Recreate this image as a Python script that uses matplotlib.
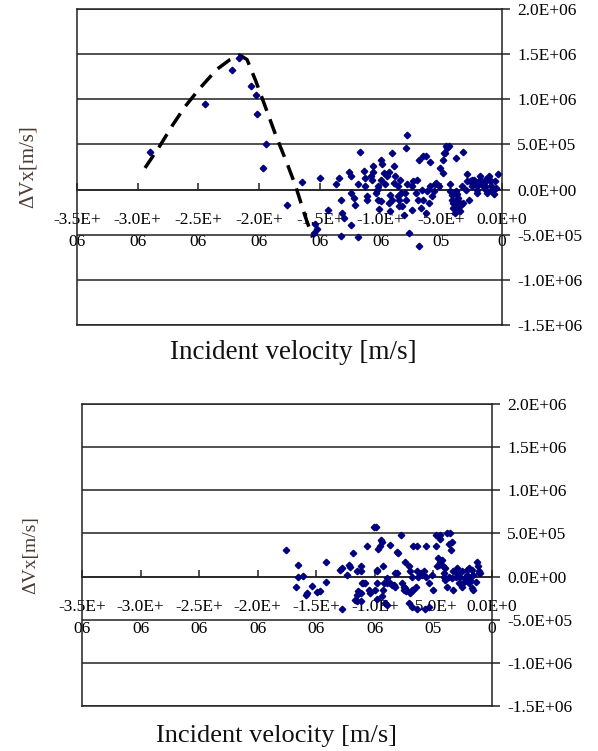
import matplotlib.pyplot as plt
import numpy as np

# incident velocity in 1e6 m/s, delta Vx in 1e5 m/s
top_vx = np.array([
    -2.90, -2.45, -2.22, -2.17, -2.07, -2.03, -2.02, -1.94, -1.97, -1.77, -1.65,
    -1.50, -1.43, -1.54, -1.52, -1.55, -1.37, -1.34, -1.33, -1.32, -1.30, -1.33,
    -1.26, -1.24, -1.24, -1.22, -1.24, -1.19, -1.17, -1.19, -1.21,
    -1.14, -1.13, -1.13, -1.11, -1.11, -1.08, -1.07, -1.06, -1.06, -1.04, -1.03,
    -1.02, -1.02, -1.01, -1.00, -0.99, -1.00, -1.00,
    -0.97, -0.96, -0.95, -0.93, -0.92, -0.91, -0.93, -0.91, -0.89, -0.88, -0.89,
    -0.92, -0.86, -0.86, -0.85, -0.84, -0.85, -0.83, -0.82, -0.81, -0.80, -0.79,
    -0.78, -0.78, -0.79, -0.77, -0.74, -0.74, -0.73, -0.71, -0.70, -0.69, -0.68,
    -0.67, -0.66, -0.65, -0.63, -0.65, -0.63, -0.68,
    -0.62, -0.60, -0.59, -0.59, -0.58, -0.56, -0.55, -0.54, -0.52, -0.51, -0.49,
    -0.49, -0.48, -0.47, -0.46, -0.45, -0.44, -0.43, -0.43, -0.41, -0.41, -0.40,
    -0.40, -0.39, -0.38, -0.38, -0.38, -0.37, -0.38, -0.36, -0.34, -0.33, -0.32,
    -0.32, -0.30, -0.29, -0.29, -0.27, -0.26, -0.25, -0.25, -0.23, -0.22, -0.21,
    -0.21, -0.19, -0.18, -0.16, -0.15, -0.14, -0.13, -0.12, -0.11, -0.10, -0.10,
    -0.09, -0.08, -0.03,
    -0.24, -0.20, -0.17, -0.13, -0.06, -0.05, -0.07, -0.37, -0.36, -0.39, -0.35,
])
top_dvx = np.array([
    4.2, 9.5, 13.2, 14.6, 11.5, 10.5, 8.4, 5.1, 2.4, -1.7, 0.8,
    1.3, -2.3, -3.8, -4.4, -4.8, 0.6, 1.3, -1.1, -2.6, -3.1, -5.1,
    1.9, 1.5, -0.4, -0.9, -3.9, -5.3, 4.2, 0.6, -1.7,
    2.1, 1.3, 0.4, -0.7, -1.1, 1.5, 1.1, 2.6, 2.0, -0.4, 0.0,
    0.4, -1.1, -2.1, 3.3, 2.8, 1.1, -1.3,
    1.8, 0.6, 1.5, 2.0, -0.6, -1.1, -1.5, 4.0, 2.6, 1.5, 0.7,
    -2.4, 0.4, -0.7, -1.8, 1.1, -1.1, -0.4, -1.8, -2.8, -0.4, 4.6,
    6.1, 0.6, -1.1, -4.8, 0.4, -2.3, 0.9, -0.4, 1.1, -1.1, 3.3,
    -2.0, 0.0, 3.7, 3.7, -1.1, -2.6, -6.3,
    -0.2, -1.5, 3.1, 0.4, -0.7, -0.2, 0.6, 0.7, 0.4, 2.4, 1.8,
    3.3, 4.1, 4.0, 4.8, 4.6, 4.8, 0.6, -0.2, -0.6, -1.1, -1.5,
    -2.0, -2.6, -0.2, -1.1, -1.8, -2.2, 3.5, -0.9, -1.7, 0.4, 4.2,
    -1.5, 0.0, 1.7, 0.9, -1.1, 0.9, 1.1, 0.4, 1.1, 0.6, 0.0,
    -0.4, 0.9, 1.5, 0.4, 0.7, 0.4, 0.0, -0.4, 1.5, 1.1, 0.9,
    0.4, -0.2, 1.7,
    0.8, 0.5, 1.0, 1.2, 0.9, 0.2, -0.5, -0.5, -1.3, -1.9, -2.4,
])

# dashed guide curve in the upper chart (1e6 m/s, 1e6 m/s)
curve_vx = [-2.94, -2.82, -2.71, -2.61, -2.49, -2.35, -2.24, -2.16, -2.10,
            -2.03, -1.95, -1.86, -1.77, -1.70, -1.62, -1.56]
curve_dvx = [0.24, 0.48, 0.72, 0.92, 1.12, 1.33, 1.44, 1.49, 1.44,
             1.21, 0.92, 0.59, 0.29, 0.04, -0.30, -0.53]

bot_vx = np.array([
    -1.76, -1.66, -1.66, -1.67, -1.61, -1.58, -1.59, -1.54, -1.49, -1.47, -1.42,
    -1.42, -1.30, -1.28, -1.24, -1.22, -1.21, -1.19, -1.15, -1.12, -1.12, -1.14,
    -1.15, -1.12, -1.11, -1.10, -1.08, -1.07, -1.05, -1.04, -1.00, -1.01, -0.99,
    -0.98, -0.98, -0.98, -0.97, -0.96, -0.95, -0.94, -0.93, -0.93, -0.92, -0.90,
    -0.90, -0.87, -0.87, -0.85, -0.84, -0.83, -0.83, -0.81, -0.81, -0.80, -0.78,
    -0.77, -0.75, -0.75, -0.74, -0.74, -0.73, -0.73, -0.71, -0.70, -0.70, -0.68,
    -0.68, -0.67, -0.67, -0.65, -0.64, -0.64, -0.63, -0.61, -0.60, -0.58, -0.56,
    -0.56, -0.54, -0.51, -0.50, -0.48, -0.48, -0.47, -0.46, -0.45, -0.44, -0.44,
    -0.44, -0.43, -0.42, -0.41, -0.41, -0.40, -0.40, -0.38, -0.38, -0.37, -0.37,
    -0.36, -0.35, -0.34, -0.34, -0.33, -0.33, -0.31, -0.30, -0.30, -0.28, -0.27,
    -0.26, -0.26, -0.24, -0.23, -0.21, -0.21, -0.20, -0.20, -0.19, -0.17, -0.17,
    -0.16, -0.14, -0.13, -0.12, -0.11, -0.11, -0.16, -0.10,
    -1.28, -1.17, -1.15, -1.12, -0.98, -0.94, -0.91, -0.90, -0.71, -0.68, -0.64,
    -0.57, -0.54,
])
bot_dvx = np.array([
    3.1, 1.3, 0.0, -1.2, 0.1, -1.9, -2.1, -1.1, -1.8, -1.7, 1.7,
    -0.6, 0.8, 1.0, 0.2, 1.3, 1.1, 2.7, 0.6, 1.2, 0.6, -1.7,
    -2.1, -1.9, -0.7, -0.8, -0.7, 3.5, -1.5, -1.9, -1.5, 5.8, 5.8,
    0.8, -0.8, 0.6, 3.2, 3.5, 4.2, 4.0, 1.2, -1.5, -0.8, -0.2,
    -0.8, 3.7, -0.8, -1.0, -1.0, 0.4, -1.2, 2.9, 0.4, 2.7, 4.8,
    -0.8, -1.2, -1.5, -1.3, 1.7, -1.5, -1.7, 1.2, 0.6, -1.9, -1.5,
    0.0, -1.5, 3.5, -1.2, 3.5, 0.6, 0.0, 0.4, 0.2, 0.6, 3.5,
    0.0, -0.8, 0.2, -1.5, 3.5, 4.8, 1.2, 2.1, 1.3, 4.8, 1.7,
    4.4, 1.9, 1.2, 0.4, 0.0, 1.0, -0.4, -1.2, 5.0, 0.0, 3.8,
    5.0, 3.1, 4.0, -0.2, 0.6, -1.5, 0.0, 0.4, 1.0, -0.8, 0.0,
    -1.2, 0.6, -0.6, -0.2, 0.8, 0.2, -0.8, 1.0, -0.4, 0.8, -1.3,
    0.2, -0.6, 1.7, 1.2, 0.4, 0.6, -1.5, 0.4,
    -3.7, -2.7, -2.8, -2.8, -2.6, -2.3, -3.1, -3.3, -3.1, -3.5, -3.7,
    -3.8, -3.5,
])

x_ticks = [-3.5e6, -3.0e6, -2.5e6, -2.0e6, -1.5e6, -1.0e6, -5.0e5, 0.0]
y_ticks = [-1.5e6, -1.0e6, -5.0e5, 0.0, 5.0e5, 1.0e6, 1.5e6, 2.0e6]

plt.rcParams['font.family'] = ['Liberation Serif', 'DejaVu Serif']

fig = plt.figure(figsize=(5.98, 7.51), dpi=100)
ax_top = fig.add_axes([0.1288, 0.5672, 0.7107, 0.4208])
ax_bot = fig.add_axes([0.1371, 0.0599, 0.6856, 0.4021])

line_col = '#222222'
dot_col = '#000080'


def excel_axes(ax):
    # move the x axis first: this resets the ticks
    ax.spines['bottom'].set_position(('data', 0))
    ax.set_xlim(-3.5e6, 0)
    ax.set_ylim(-1.5e6, 2.0e6)
    ax.set_yticks(y_ticks)
    ax.set_yticklabels([f"{v:.1E}" for v in y_ticks])
    ax.set_xticks(x_ticks)
    # Excel wraps the long labels after six characters
    ax.set_xticklabels([f"{v:.1E}"[:6] + "\n" + f"{v:.1E}"[6:] for v in x_ticks])
    ax.yaxis.tick_right()
    ax.tick_params(axis='y', direction='out', length=6, width=1.1, pad=5,
                   labelsize=12.5, color=line_col)
    ax.tick_params(axis='x', direction='in', length=5, width=1.1, pad=16,
                   labelsize=12.5, color=line_col)
    for lbl in ax.get_xticklabels():
        lbl.set_linespacing(1.55)
    for s in ax.spines.values():
        s.set_color(line_col)
        s.set_linewidth(1.1)
    ax.grid(axis='y', color=line_col, linewidth=1.1)
    ax.plot([0, 1], [0, 0], transform=ax.transAxes, color=line_col,
            linewidth=1.1, clip_on=False)
    ax.set_axisbelow(True)


excel_axes(ax_top)
excel_axes(ax_bot)

ax_top.plot(np.array(curve_vx) * 1e6, np.array(curve_dvx) * 1e6, color='black',
            linewidth=2.5, dashes=(4.5, 2.6), zorder=3)
ax_top.plot(top_vx * 1e6, top_dvx * 1e5, linestyle='none', marker='D',
            markersize=3.3, color=dot_col, zorder=4)
ax_bot.plot(bot_vx * 1e6, bot_dvx * 1e5, linestyle='none', marker='D',
            markersize=3.3, color=dot_col, zorder=4)

ylab_col = '#4a3a32'
fig.text(0.0468, 0.7776, 'ΔVx[m/s]', rotation=90, ha='center', va='center',
         fontsize=15, color=ylab_col)
fig.text(0.0518, 0.261, 'ΔVx[m/s]', rotation=90, ha='center', va='center',
         fontsize=14, color=ylab_col)
fig.text(0.49, 1 - 353 / 751, 'Incident velocity [m/s]', ha='center',
         va='center', fontsize=19.5, color='#111111')
fig.text(0.463, 1 - 736 / 751, 'Incident velocity [m/s]', ha='center',
         va='center', fontsize=19, color='#111111')

fig.savefig('out.png', dpi=100)
